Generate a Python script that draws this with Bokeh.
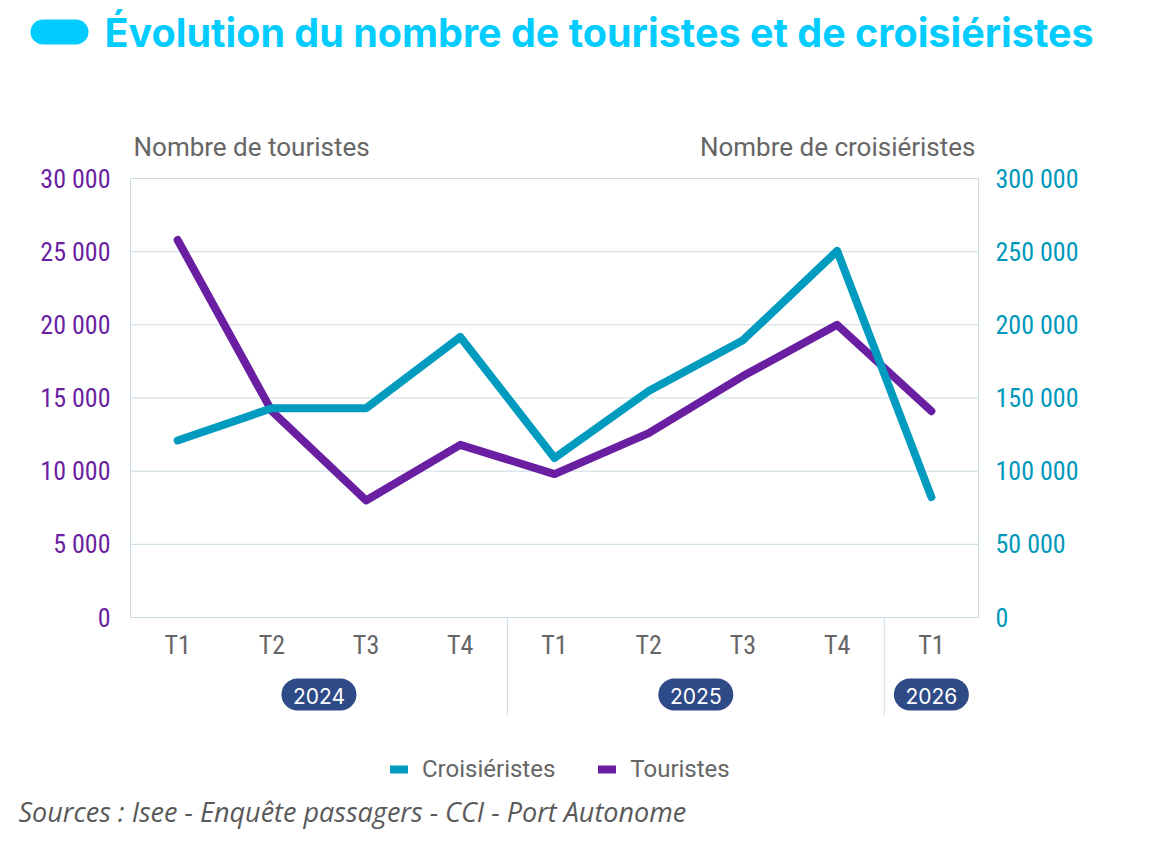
from bokeh.plotting import figure
from bokeh.models import Range1d, LinearAxis, FixedTicker, Legend, LegendItem
from bokeh.core.properties import value
from bokeh.embed import file_html
from bokeh.resources import INLINE

# ---------------- data ----------------
quarters = ["T1", "T2", "T3", "T4", "T1", "T2", "T3", "T4", "T1"]
years = ["2024", "2025", "2026"]
quarters_per_year = [4, 4, 1]
touristes = [25800, 14100, 8000, 11800, 9800, 12600, 16500, 20000, 14100]
croisieristes = [121000, 143000, 143000, 191700, 109000, 154800, 189500, 250500, 82300]
left_ticks = [0, 5000, 10000, 15000, 20000, 25000, 30000]
left_tick_labels = ["0", "5 000", "10 000", "15 000", "20 000", "25 000", "30 000"]
right_ticks = [0, 50000, 100000, 150000, 200000, 250000, 300000]
right_tick_labels = ["0", "50 000", "100 000", "150 000", "200 000", "250 000", "300 000"]
series_names = ["Croisiéristes", "Touristes"]

title_text = "Évolution du nombre de touristes et de croisiéristes"
left_title = "Nombre de touristes"
right_title = "Nombre de croisiéristes"
source_text = "Sources : Isee - Enquête passagers - CCI - Port Autonome"

# ---------------- styles / layout ----------------
PURPLE = "#6A1FA2"
TEAL = "#009BBF"
TEAL_TXT = "#0098BA"
CYAN = "#00CCFF"
NAVY = "#2E4A87"
GRID = "#C9DBE2"
GREY = "#666666"
NARROW = "'Liberation Sans Narrow', 'Roboto Condensed', Roboto"
SANS = "Roboto"

W, H = 1152, 852
FL, FR, FT, FB = 130, 978, 178, 617     # chart area in canvas pixels
n = len(quarters)
ymax = left_ticks[-1]
ratio = right_ticks[-1] / left_ticks[-1]
sx = (FR - FL) / n                      # px per category
sy = (FB - FT) / ymax                   # px per tourist


def X(px):
    return (px - FL) / sx


def Y(py):
    return (FB - py) / sy


p = figure(width=W, height=H, output_backend="svg", toolbar_location=None,
           x_range=Range1d(X(0), X(W)), y_range=Range1d(Y(H), Y(0)),
           min_border=0, min_border_left=0, min_border_right=0,
           min_border_top=0, min_border_bottom=0)
p.extra_y_ranges = {"cruise": Range1d(Y(H) * ratio, Y(0) * ratio)}
p.outline_line_color = None
p.background_fill_color = "white"
p.border_fill_color = "white"
p.grid.visible = False

xs = [i + 0.5 for i in range(n)]

# horizontal gridlines across the chart area
p.segment(x0=[0] * len(left_ticks), x1=[n] * len(left_ticks), y0=left_ticks,
          y1=left_ticks, line_color=GRID, line_width=1)

# x axis at y = 0
xa = p.xaxis[0]
xa.fixed_location = 0
xa.bounds = (0, n)
xa.ticker = FixedTicker(ticks=xs)
xa.major_label_overrides = {x: q for x, q in zip(xs, quarters)}
xa.major_tick_line_color = None
xa.major_tick_out = 0
xa.major_tick_in = 0
xa.minor_tick_line_color = None
xa.axis_line_color = GRID
xa.major_label_text_color = GREY
xa.major_label_text_font = NARROW
xa.major_label_text_font_size = "26px"
xa.major_label_standoff = 12

# left axis at x = 0
ya = p.yaxis[0]
ya.fixed_location = 0
ya.bounds = (0, ymax)
ya.ticker = FixedTicker(ticks=left_ticks)
ya.major_label_overrides = {t: s for t, s in zip(left_ticks, left_tick_labels)}
ya.major_tick_line_color = None
ya.major_tick_out = 0
ya.major_tick_in = 0
ya.minor_tick_line_color = None
ya.axis_line_color = GRID
ya.major_label_text_color = PURPLE
ya.major_label_text_font = NARROW
ya.major_label_text_font_size = "26px"
ya.major_label_standoff = 20

# right axis at x = n
ra = LinearAxis(y_range_name="cruise", ticker=FixedTicker(ticks=right_ticks),
                fixed_location=n, bounds=(0, right_ticks[-1]))
ra.major_label_overrides = {t: s for t, s in zip(right_ticks, right_tick_labels)}
ra.major_tick_line_color = None
ra.major_tick_out = 0
ra.major_tick_in = 0
ra.minor_tick_line_color = None
ra.axis_line_color = GRID
ra.major_label_text_color = TEAL_TXT
ra.major_label_text_font = NARROW
ra.major_label_text_font_size = "26px"
ra.major_label_standoff = 17
p.add_layout(ra, "right")

# data lines
r_tour = p.line(xs, touristes, line_color=PURPLE, line_width=8,
                line_cap="round", line_join="round")
r_cruise = p.line(xs, croisieristes, y_range_name="cruise", line_color=TEAL,
                  line_width=8, line_cap="round", line_join="round")

# year groups: separators and badges
bounds = []
centers = []
acc = 0
for k in quarters_per_year:
    centers.append(acc + k / 2)
    acc += k
    bounds.append(acc)
bounds = bounds[:-1]
p.segment(x0=bounds, x1=bounds, y0=[0] * len(bounds), y1=[Y(715)] * len(bounds),
          line_color=GRID, line_width=1)
half = 21.5 / sx
p.segment(x0=[c - half for c in centers], x1=[c + half for c in centers],
          y0=[Y(694)] * len(centers), y1=[Y(694)] * len(centers),
          line_color=NAVY, line_width=32, line_cap="round")
p.text(x=centers, y=[Y(695)] * len(centers), text=years, text_font=value("Inter"),
       text_font_size="21px", text_color="white", text_align="center",
       text_baseline="middle")

# title with pill
p.line([X(42.5), X(75.5)], [Y(31.5), Y(31.5)], line_color=CYAN, line_width=25,
       line_cap="round")
p.text(x=[X(104)], y=[Y(32)], text=[title_text], text_font=value("Inter"),
       text_font_style="bold", text_font_size="39.5px", text_color=CYAN,
       text_baseline="middle", text_align="left")

# axis titles
p.text(x=[X(133)], y=[Y(146)], text=[left_title], text_font=value(SANS),
       text_font_size="26px", text_color=GREY, text_baseline="middle",
       text_align="left")
p.text(x=[X(975)], y=[Y(146)], text=[right_title], text_font=value(SANS),
       text_font_size="26px", text_color=GREY, text_baseline="middle",
       text_align="right")

# legend
legend = Legend(items=[LegendItem(label=series_names[0], renderers=[r_cruise]),
                       LegendItem(label=series_names[1], renderers=[r_tour])],
                orientation="horizontal", location=(390, H - 783),
                padding=0, margin=0, spacing=43, label_standoff=14,
                glyph_width=18, glyph_height=20, label_height=20,
                border_line_color=None, background_fill_alpha=0,
                label_text_font=SANS, label_text_font_size="24px",
                label_text_color=GREY)
p.add_layout(legend, "center")

# source
p.text(x=[X(18)], y=[Y(811)], text=[source_text], text_font=value("Open Sans"),
       text_font_style="italic", text_font_size="27px", text_color="#595959",
       text_align="left", text_baseline="middle")

open("out.html", "w").write(file_html(p, INLINE))
